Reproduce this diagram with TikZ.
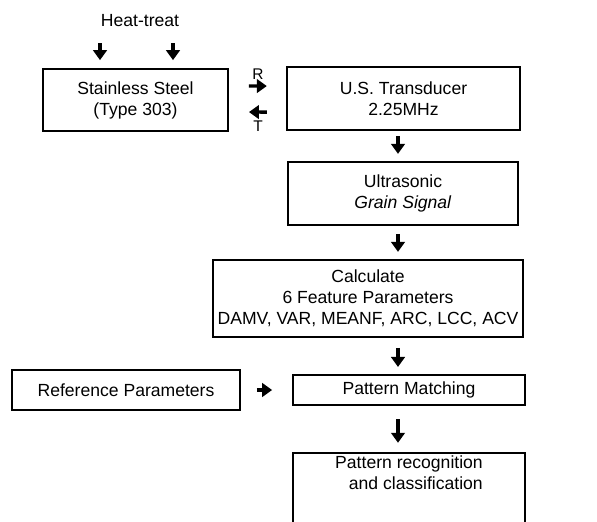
\documentclass[tikz,border=0pt]{standalone}
\usepackage{fontspec}
\setmainfont{Liberation Sans}
\usetikzlibrary{arrows.meta}

\begin{document}
\begin{tikzpicture}[x=0.025cm,y=-0.025cm,
  txt/.style={font=\fontsize{12.5}{15}\selectfont},
  box/.style={txt,draw,line width=1.2pt,align=center,inner sep=1pt},
  flow/.style={line width=2.4pt,-{Triangle[length=0.25cm,width=0.34cm]}}]
  \useasboundingbox (0,0) rectangle (597,521);
  \clip (0,0) rectangle (597,521);
  % Draw boxes
  \node (heat)  [txt] at (140,21) {Heat-treat};
  \node (steel) [box,minimum width=4.63cm,minimum height=1.55cm] at (135.5,100)
        {Stainless Steel\\(Type 303)};
  \node (trans) [box,minimum width=5.83cm,minimum height=1.58cm] at (403.5,98.5)
        {U.S. Transducer\\2.25MHz};
  \node (ultra) [box,minimum width=5.75cm,minimum height=1.58cm] at (403,193.5)
        {Ultrasonic\\\textit{Grain Signal}};
  \node (calc)  [box,minimum width=7.75cm,minimum height=1.93cm] at (368,298.5)
        {Calculate\\6 Feature Parameters\\DAMV, VAR, MEANF, ARC, LCC, ACV};
  \node (refp)  [box,minimum width=5.7cm,minimum height=1cm]     at (126,390)
        {Reference Parameters};
  \node (match) [box,minimum width=5.8cm,minimum height=0.75cm]  at (409,390)
        {Pattern Matching};
  \node (clas)  [box,minimum width=5.8cm,anchor=north,align=right,inner ysep=2pt,
        text depth=2.2cm] at (409,452)
        {Pattern recognition\\and classification};
  % R and T
  \node (rlab) [font=\fontsize{11}{13}\selectfont] at (258,74)  {R};
  \node (tlab) [font=\fontsize{11}{13}\selectfont] at (258,126) {T};
  % Draw arrows
  \coordinate (ht1) at (100,0);
  \coordinate (ht2) at (173,0);
  \coordinate (axis) at (398,0);
  \draw[flow,shorten <=0.28cm,shorten >=0.2cm] (heat.south -| ht1) -- (steel.north -| ht1);
  \draw[flow,shorten <=0.28cm,shorten >=0.2cm] (heat.south -| ht2) -- (steel.north -| ht2);
  \draw[flow,shorten <=0.5cm,shorten >=0.48cm] ([yshift=0.35cm]steel.east) -- ([yshift=0.31cm]trans.west);
  \draw[flow,shorten <=0.48cm,shorten >=0.5cm] ([yshift=-0.34cm]trans.west) -- ([yshift=-0.3cm]steel.east);
  \draw[flow,shorten <=0.13cm,shorten >=0.18cm] (trans.south -| axis) -- (ultra.north -| axis);
  \draw[flow,shorten <=0.2cm,shorten >=0.18cm]  (ultra.south -| axis) -- (calc.north -| axis);
  \draw[flow,shorten <=0.25cm,shorten >=0.18cm] (calc.south -| axis)  -- (match.north -| axis);
  \draw[flow,shorten <=0.33cm,shorten >=0.23cm] (match.south -| axis) -- (clas.north -| axis);
  \draw[flow,shorten <=0.4cm,shorten >=0.5cm]   (refp) -- (match);
\end{tikzpicture}
\end{document}
